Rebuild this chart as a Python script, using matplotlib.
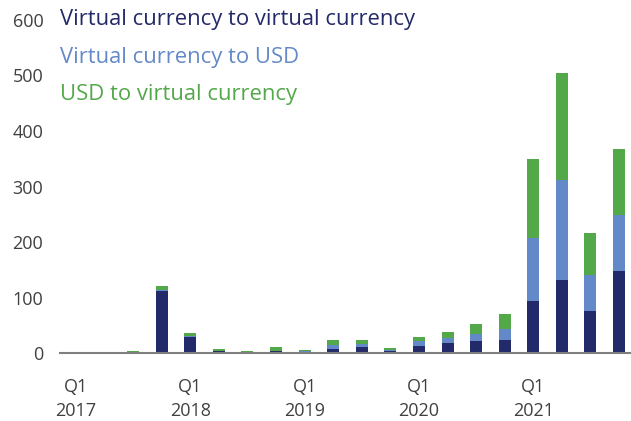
import matplotlib.pyplot as plt
import numpy as np

plt.rcParams["font.family"] = ["Open Sans", "DejaVu Sans"]

# quarterly data, Q1 2017 .. Q4 2021
quarters = ["Q1\n2017", "", "", "", "Q1\n2018", "", "", "", "Q1\n2019", "", "", "",
            "Q1\n2020", "", "", "", "Q1\n2021", "", "", ""]
virt_to_virt = [0, 0.3, 1, 112, 28, 4, 1, 4, 1.5, 8, 10, 3, 13, 18, 21, 23, 94, 131, 76, 148]
virt_to_usd = [0, 0.2, 0.5, 2, 2, 0.5, 1.5, 0.5, 1.5, 6, 6, 3, 8, 9, 14, 20, 113, 181, 64, 100]
usd_to_virt = [0, 0.5, 2, 6, 6, 2, 2, 7, 2, 10, 8, 3, 8, 10, 17, 28, 143, 192, 76, 120]

labels = ["Virtual currency to virtual currency", "Virtual currency to USD", "USD to virtual currency"]
colors = ["#232a69", "#6389c8", "#53a84a"]

fig = plt.figure(figsize=(6.31, 4.21), dpi=100)
ax = fig.add_axes([0.095, 0.1615, 0.905, 0.791])

x = np.arange(len(quarters))
w = 0.42
b1 = np.array(virt_to_virt)
b2 = b1 + np.array(virt_to_usd)
ax.bar(x, virt_to_virt, w, color=colors[0])
ax.bar(x, virt_to_usd, w, bottom=b1, color=colors[1])
ax.bar(x, usd_to_virt, w, bottom=b2, color=colors[2])

ax.set_xlim(-0.56, 19.42)
ax.set_ylim(0, 600)
ax.set_yticks(range(0, 601, 100))
ax.set_xticks(x)
ax.set_xticklabels(quarters, fontsize=13, color="#404040", linespacing=1.4)
ax.tick_params(axis="both", length=0)
ax.tick_params(axis="y", labelsize=13, labelcolor="#404040", pad=12)
ax.tick_params(axis="x", pad=18)

for s in ["top", "right", "left"]:
    ax.spines[s].set_visible(False)
ax.spines["bottom"].set_color("#7f7f7f")
ax.spines["bottom"].set_linewidth(1.5)

for i, (lab, c) in enumerate(zip(labels, colors)):
    ax.text(0.0, 600 - i * 67, lab, color=c, fontsize=15.8, va="center", ha="left",
            transform=ax.get_yaxis_transform())

fig.savefig("out.png", dpi=100)
